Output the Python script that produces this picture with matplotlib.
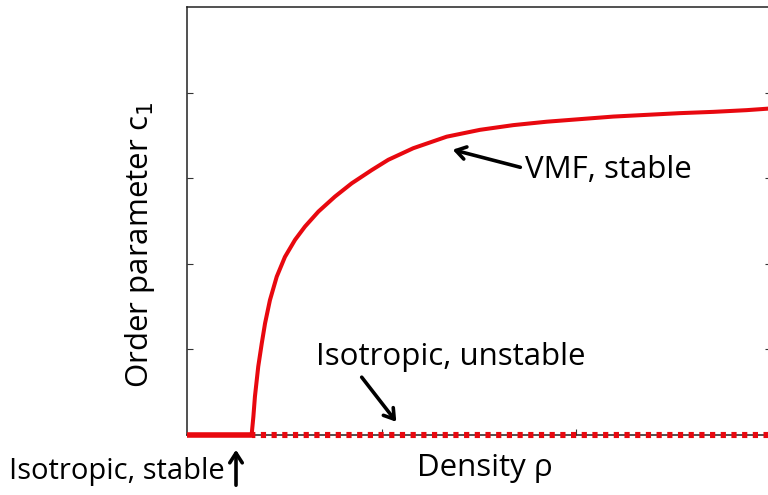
import matplotlib
matplotlib.use("Agg")
import matplotlib.pyplot as plt
from matplotlib.patches import FancyArrowPatch

# Data
rho_vmf = [0.332, 0.341, 0.349, 0.366, 0.384, 0.401, 0.426, 0.461, 0.503, 0.555,
           0.606, 0.675, 0.760, 0.846, 0.949, 1.034, 1.162, 1.334, 1.505, 1.676,
           1.848, 2.019, 2.190, 2.361, 2.532, 2.704, 2.875, 3.0]
c1_vmf = [0.0, 0.043, 0.090, 0.160, 0.214, 0.261, 0.315, 0.370, 0.416, 0.456,
          0.487, 0.522, 0.557, 0.588, 0.619, 0.643, 0.670, 0.697, 0.713, 0.724,
          0.732, 0.738, 0.744, 0.748, 0.752, 0.755, 0.759, 0.763]
rho_iso_stable = [0.0, 0.332]
c1_iso_stable = [0.0, 0.0]
rho_iso_unstable = [0.332, 3.0]
c1_iso_unstable = [0.0, 0.0]
x_ticks = [1, 2]
y_ticks = [0.2, 0.4, 0.6, 0.8]

FONT = "Open Sans"
plt.rcParams['font.family'] = [FONT, 'DejaVu Sans']

fig = plt.figure(figsize=(7.68, 4.95), dpi=100)
W, H = 768, 495
ax = fig.add_axes([187 / W, 60 / H, (771 - 187) / W, (435 - 7) / H])

red = '#e8080f'
ax.plot(rho_vmf, c1_vmf, color=red, lw=2.9, zorder=3, solid_capstyle='butt',
        solid_joinstyle='round', clip_on=False)
ax.plot(rho_iso_stable, c1_iso_stable, color=red, lw=4.0, zorder=3,
        solid_capstyle='butt', clip_on=False)
ax.plot(rho_iso_unstable, c1_iso_unstable, color=red, lw=4.4, zorder=3,
        linestyle=(0.3, (0.85, 0.9)), dash_capstyle='butt', clip_on=False)

ax.set_xlim(0, 3)
ax.set_ylim(0, 1)
ax.set_xticks(x_ticks)
ax.set_yticks(y_ticks)
ax.tick_params(direction='in', length=4, width=0.8, colors='#333333',
               labelbottom=False, labelleft=False, right=True, top=False)
for s in ax.spines.values():
    s.set_linewidth(1.1)
    s.set_color('#222222')

fs = 22.5
fig.text(140 / W, 1 - 245 / H, r'Order parameter c$_1$', rotation=90,
         ha='center', va='center', fontsize=fs)
fig.text(485 / W, 1 - 468 / H, 'Density ρ', ha='center', va='center', fontsize=fs)
fig.text(9 / W, 1 - 472 / H, 'Isotropic, stable', ha='left', va='center', fontsize=21)
fig.text(316 / W, 1 - 357 / H, 'Isotropic, unstable', ha='left', va='center', fontsize=fs)
fig.text(525 / W, 1 - 170 / H, 'VMF, stable', ha='left', va='center', fontsize=fs)

def arrow(p0, p1):
    fig.add_artist(FancyArrowPatch(
        (p0[0] / W, 1 - p0[1] / H), (p1[0] / W, 1 - p1[1] / H),
        transform=fig.transFigure,
        arrowstyle='->,head_length=7,head_width=4.5', lw=2.6, color='black'))

arrow((236, 488), (236, 447))
arrow((360, 375), (398, 424))
arrow((523, 168), (450, 149))

fig.savefig('out.png', dpi=100)
